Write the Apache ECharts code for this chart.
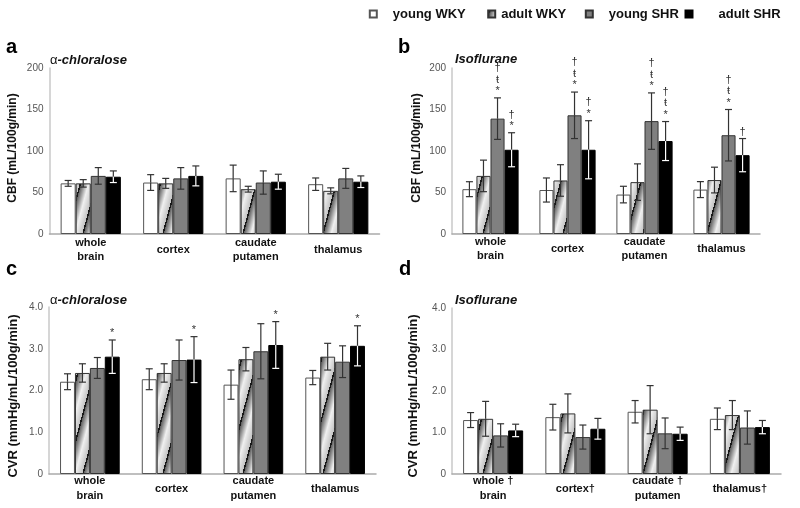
<!DOCTYPE html>
<html><head><meta charset="utf-8">
<script src="https://cdn.jsdelivr.net/npm/echarts@6/dist/echarts.min.js"></script>
<style>html,body{margin:0;padding:0;background:#fff}#c{width:800px;height:508px}</style>
</head><body><div id="c"></div>
<script>
// ---------- data ----------
const regions = ['whole\nbrain', 'cortex', 'caudate\nputamen', 'thalamus'];
const regionsD = ['whole †\nbrain', 'cortex†', 'caudate †\nputamen', 'thalamus†'];
const groups = ['young WKY', 'adult WKY', 'young SHR', 'adult SHR'];
const cbfTicks = [0, 50, 100, 150, 200];
const cvrTicks = [0, 1.0, 2.0, 3.0, 4.0];

// rows = groups (young WKY, adult WKY, young SHR, adult SHR), cols = regions
const cbfChloraloseMean = [[61, 62, 67, 60], [61, 61, 54, 52], [70, 67, 62, 67], [69, 70, 63, 63]];
const cbfChloraloseErr  = [[3.5, 9.5, 16, 7.5], [4.5, 6, 3.5, 3.6], [10, 13, 14, 12], [7, 12, 9, 7]];
const cbfIsofluraneMean = [[54, 53, 47.5, 53.5], [70, 64.5, 62.5, 65], [139, 143, 136, 119], [101.5, 101.5, 112, 95]];
const cbfIsofluraneErr  = [[9, 14.5, 10, 9.6], [19, 19, 22, 15.5], [25, 28, 34, 31], [20.5, 35, 23.5, 20]];
const cbfIsofluraneSig  = [['', '', '', ''], ['', '', '', ''], ['†\nŧ\n*', '†\nŧ\n*', '†\nŧ\n*', '†\nŧ\n*'], ['†\n*', '†\n*', '†\nŧ\n*', '†']];
const cvrChloraloseMean = [[2.21, 2.27, 2.14, 2.31], [2.42, 2.42, 2.75, 2.81], [2.54, 2.73, 2.94, 2.69], [2.81, 2.74, 3.09, 3.07]];
const cvrChloraloseErr  = [[0.19, 0.25, 0.35, 0.17], [0.22, 0.22, 0.28, 0.32], [0.25, 0.48, 0.66, 0.38], [0.40, 0.55, 0.56, 0.48]];
const cvrChloraloseSig  = [['', '', '', ''], ['', '', '', ''], ['', '', '', ''], ['*', '*', '*', '*']];
const cvrIsofluraneMean = [[1.30, 1.37, 1.50, 1.33], [1.33, 1.46, 1.55, 1.42], [0.93, 0.89, 0.98, 1.12], [1.05, 1.09, 0.97, 1.13]];
const cvrIsofluraneErr  = [[0.18, 0.31, 0.27, 0.26], [0.42, 0.47, 0.58, 0.35], [0.28, 0.29, 0.37, 0.40], [0.15, 0.25, 0.16, 0.16]];

// ---------- styling ----------
const FONT = '"Liberation Sans", Arial, sans-serif';
function makeHatch() {
  const W = 16, H = 60;
  const cv = document.createElement('canvas'); cv.width = W; cv.height = H;
  const ctx = cv.getContext('2d'); const img = ctx.createImageData(W, H);
  for (let y = 0; y < H; y++) for (let x = 0; x < W; x++) {
    const u = ((y + x * H / W) % H) / H;
    let v;
    if (u < 0.09) v = 25;
    else if (u < 0.55) v = 95 + (u - 0.09) / 0.46 * 145;
    else v = 240 - (u - 0.55) / 0.45 * 45;
    const i = (y * W + x) * 4;
    img.data[i] = img.data[i + 1] = img.data[i + 2] = Math.round(v); img.data[i + 3] = 255;
  }
  ctx.putImageData(img, 0, 0);
  return cv;
}
const hatch = { image: makeHatch(), repeat: 'repeat' };
const barStyles = [
  { color: '#ffffff', borderColor: '#555', borderWidth: 1 },
  { color: hatch, borderColor: '#333', borderWidth: 1 },
  { color: '#808080', borderColor: '#333', borderWidth: 1 },
  { color: '#000000', borderColor: '#000', borderWidth: 1 }
];

const panels = [
  { mean: cbfChloraloseMean, err: cbfChloraloseErr, sig: null, cats: regions, ticks: cbfTicks,
    grid: { left: 49.5, top: 68, width: 330, height: 166 }, lh: 13.5, margin: 16 },
  { mean: cbfIsofluraneMean, err: cbfIsofluraneErr, sig: cbfIsofluraneSig, cats: regions, ticks: cbfTicks,
    grid: { left: 452, top: 68, width: 308, height: 166 }, lh: 13.5, margin: 15 },
  { mean: cvrChloraloseMean, err: cvrChloraloseErr, sig: cvrChloraloseSig, cats: regions, ticks: cvrTicks,
    grid: { left: 49, top: 307, width: 327, height: 167 }, lh: 15.5, margin: 14.5 },
  { mean: cvrIsofluraneMean, err: cvrIsofluraneErr, sig: null, cats: regionsD, ticks: cvrTicks,
    grid: { left: 452, top: 308, width: 329, height: 166 }, lh: 15.5, margin: 14.5 }
];

const CAT_GAP = 0.27;
function makeErrRender(sig) {
  return function (params, api) {
    const ci = api.value(0), g = api.value(1), m = api.value(2), e = api.value(3);
    const c = api.coord([ci, m]);
    const catW = api.size([1, 0])[0];
    const gw = catW * (1 - CAT_GAP), bw = gw / 4;
    const x = c[0] - gw / 2 + bw * (g + 0.5);
    const yT = api.coord([ci, m + e])[1], yM = c[1], yB = api.coord([ci, Math.max(0, m - e)])[1];
    const dark = '#333', inner = g === 3 ? '#ffffff' : dark, cap = 3.5, lw = 1.2;
    const ch = [
      { type: 'line', shape: { x1: x, y1: yT, x2: x, y2: yM }, style: { stroke: dark, lineWidth: lw } },
      { type: 'line', shape: { x1: x, y1: yM, x2: x, y2: yB }, style: { stroke: inner, lineWidth: lw } },
      { type: 'line', shape: { x1: x - cap, y1: yT, x2: x + cap, y2: yT }, style: { stroke: dark, lineWidth: lw } },
      { type: 'line', shape: { x1: x - cap, y1: yB, x2: x + cap, y2: yB }, style: { stroke: inner, lineWidth: lw } }
    ];
    const s = sig && sig[g] && sig[g][ci];
    if (s) ch.push({ type: 'text', x: x, y: yT - 1, style: {
      text: s, align: 'center', verticalAlign: 'bottom', textAlign: 'center', textVerticalAlign: 'bottom',
      fontSize: 11, lineHeight: 11.5, fill: '#333', fontFamily: FONT } });
    return { type: 'group', children: ch };
  };
}

const grids = [], xAxes = [], yAxes = [], series = [];
panels.forEach((p, pi) => {
  grids.push(p.grid);
  xAxes.push({ type: 'category', gridIndex: pi, data: p.cats,
    axisLine: { lineStyle: { color: '#aaa', width: 1.5 } }, axisTick: { show: false },
    axisLabel: { fontFamily: FONT, fontWeight: 'bold', fontSize: 11, color: '#111', lineHeight: p.lh,
      verticalAlign: 'middle', margin: p.margin, interval: 0 } });
  const tmax = p.ticks[p.ticks.length - 1];
  yAxes.push({ type: 'value', gridIndex: pi, min: 0, max: tmax, interval: p.ticks[1],
    axisLine: { show: true, lineStyle: { color: '#c8c8c8', width: 1.5 } }, axisTick: { show: false },
    splitLine: { show: false },
    axisLabel: { fontFamily: FONT, fontSize: 10, color: '#555', margin: 6,
      formatter: v => (tmax > 10 ? String(v) : (v === 0 ? '0' : v.toFixed(1))) } });
  groups.forEach((gname, g) => {
    series.push({ type: 'bar', name: gname, xAxisIndex: pi, yAxisIndex: pi, data: p.mean[g],
      barGap: '0%', barCategoryGap: (CAT_GAP * 100) + '%', itemStyle: barStyles[g], silent: true });
  });
  const errData = [];
  for (let g = 0; g < 4; g++) for (let ci = 0; ci < 4; ci++) errData.push([ci, g, p.mean[g][ci], p.err[g][ci]]);
  series.push({ type: 'custom', xAxisIndex: pi, yAxisIndex: pi, data: errData, z: 10, silent: true,
    renderItem: makeErrRender(p.sig), encode: { x: 0, y: 2 } });
});

const legIconLeft = [368.8, 487.2, 584.8, 684.5];
const legPad = [11, 1, 11, 21];
const legends = groups.map((g, i) => ({ data: [g], left: legIconLeft[i], top: 7.5, padding: 0,
  itemWidth: 7, itemHeight: 7, icon: 'rect', selectedMode: false,
  textStyle: { fontFamily: FONT, fontWeight: 'bold', fontSize: 13, color: '#111', padding: [0, 0, 0, legPad[i]] } }));

function txt(x, y, text, extra) {
  return Object.assign({ type: 'text', x: x, y: y, silent: true,
    style: Object.assign({ text: text, fill: '#000', fontFamily: FONT }, extra) });
}
const graphic = [
  txt(6, 47, 'a', { fontSize: 20, fontWeight: 'bold', textVerticalAlign: 'middle', verticalAlign: 'middle' }),
  txt(398, 47, 'b', { fontSize: 20, fontWeight: 'bold', textVerticalAlign: 'middle', verticalAlign: 'middle' }),
  txt(6, 269, 'c', { fontSize: 20, fontWeight: 'bold', textVerticalAlign: 'middle', verticalAlign: 'middle' }),
  txt(399, 269, 'd', { fontSize: 20, fontWeight: 'bold', textVerticalAlign: 'middle', verticalAlign: 'middle' }),
  txt(50, 60, '{a|α}{b|-chloralose}', { textVerticalAlign: 'middle', verticalAlign: 'middle',
    rich: { a: { fontSize: 13, fontFamily: FONT, fill: '#111' }, b: { fontSize: 13, fontStyle: 'italic', fontWeight: 'bold', fontFamily: FONT, fill: '#111' } } }),
  txt(455, 59, 'Isoflurane', { fontSize: 13, fontStyle: 'italic', fontWeight: 'bold', fill: '#111', textVerticalAlign: 'middle', verticalAlign: 'middle' }),
  txt(50, 300, '{a|α}{b|-chloralose}', { textVerticalAlign: 'middle', verticalAlign: 'middle',
    rich: { a: { fontSize: 13, fontFamily: FONT, fill: '#111' }, b: { fontSize: 13, fontStyle: 'italic', fontWeight: 'bold', fontFamily: FONT, fill: '#111' } } }),
  txt(455, 300, 'Isoflurane', { fontSize: 13, fontStyle: 'italic', fontWeight: 'bold', fill: '#111', textVerticalAlign: 'middle', verticalAlign: 'middle' }),
  Object.assign(txt(13, 148, 'CBF (mL/100g/min)', { fontSize: 12, fontWeight: 'bold', fill: '#111', textAlign: 'center', align: 'center', textVerticalAlign: 'middle', verticalAlign: 'middle' }), { rotation: Math.PI / 2 }),
  Object.assign(txt(417, 148, 'CBF (mL/100g/min)', { fontSize: 12, fontWeight: 'bold', fill: '#111', textAlign: 'center', align: 'center', textVerticalAlign: 'middle', verticalAlign: 'middle' }), { rotation: Math.PI / 2 }),
  Object.assign(txt(13, 396, 'CVR (mmHg/mL/100g/min)', { fontSize: 13, fontWeight: 'bold', fill: '#111', textAlign: 'center', align: 'center', textVerticalAlign: 'middle', verticalAlign: 'middle' }), { rotation: Math.PI / 2 }),
  Object.assign(txt(413, 396, 'CVR (mmHg/mL/100g/min)', { fontSize: 13, fontWeight: 'bold', fill: '#111', textAlign: 'center', align: 'center', textVerticalAlign: 'middle', verticalAlign: 'middle' }), { rotation: Math.PI / 2 })
];

const chart = echarts.init(document.getElementById('c'), null, { renderer: 'canvas' });
chart.setOption({
  animation: false, backgroundColor: '#fff',
  legend: legends, grid: grids, xAxis: xAxes, yAxis: yAxes, series: series, graphic: graphic
});
</script></body></html>
